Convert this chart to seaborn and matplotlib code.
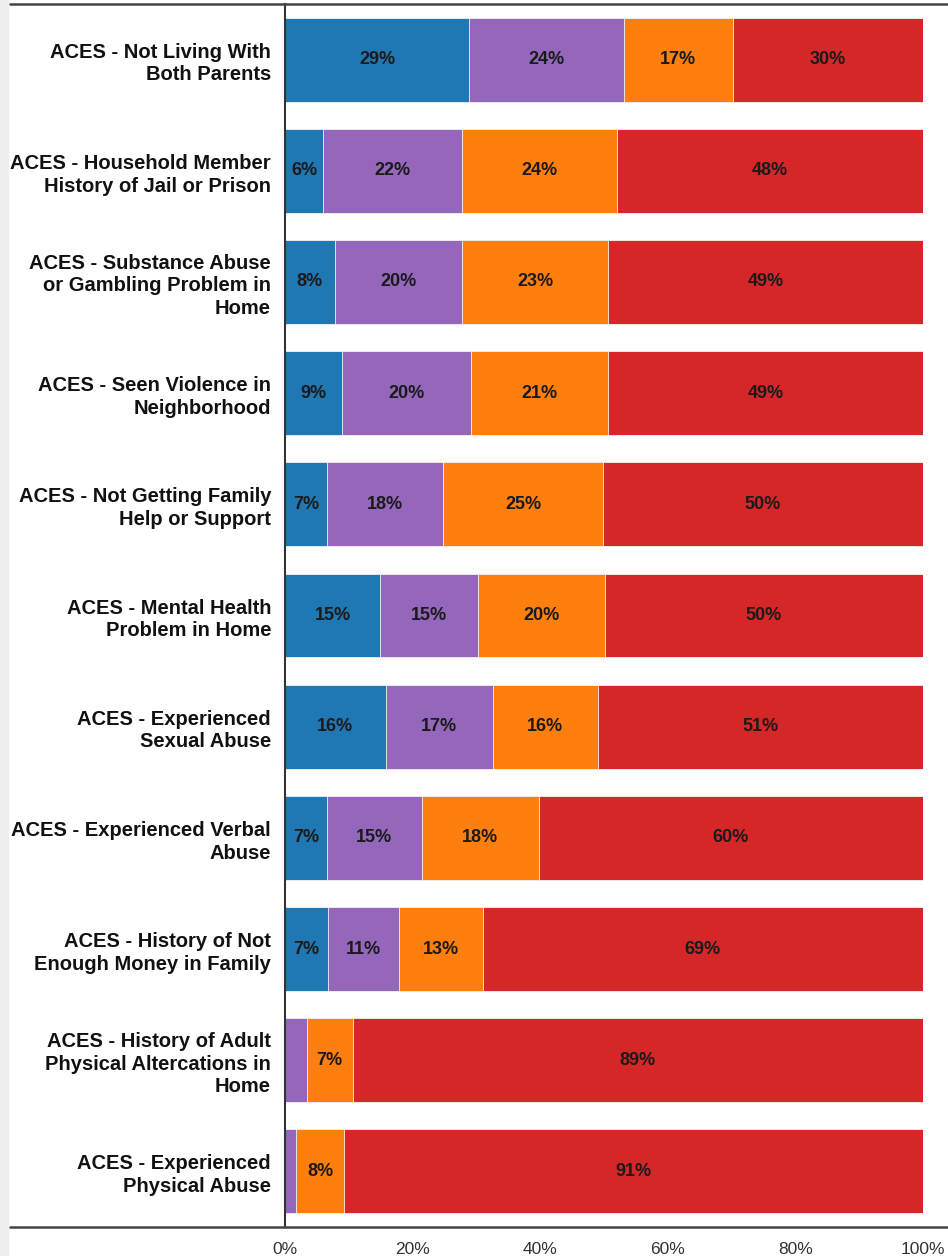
import numpy as np
import pandas as pd
import matplotlib.pyplot as plt
import seaborn as sns
from matplotlib.lines import Line2D
from matplotlib.patches import Rectangle

# data (percent of respondents)
categories = [
    "ACES - Not Living With\nBoth Parents",
    "ACES - Household Member\nHistory of Jail or Prison",
    "ACES - Substance Abuse\nor Gambling Problem in\nHome",
    "ACES - Seen Violence in\nNeighborhood",
    "ACES - Not Getting Family\nHelp or Support",
    "ACES - Mental Health\nProblem in Home",
    "ACES - Experienced\nSexual Abuse",
    "ACES - Experienced Verbal\nAbuse",
    "ACES - History of Not\nEnough Money in Family",
    "ACES - History of Adult\nPhysical Altercations in\nHome",
    "ACES - Experienced\nPhysical Abuse",
]
blue = [28.9, 6.0, 7.8, 8.9, 6.6, 14.9, 15.8, 6.6, 6.8, 0.0, 0.0]
purple = [24.2, 21.8, 20.0, 20.3, 18.2, 15.4, 16.8, 14.8, 11.0, 3.4, 1.7]
orange = [17.1, 24.3, 22.8, 21.4, 25.0, 19.8, 16.4, 18.4, 13.2, 7.2, 7.6]
red = [29.8, 47.9, 49.4, 49.4, 50.2, 49.9, 51.0, 60.2, 69.0, 89.4, 90.7]

series = [blue, purple, orange, red]
colors = ["#1f77b4", "#9467bd", "#ff7f0e", "#d62728"]

df = pd.DataFrame({"cat": categories})
cum = np.cumsum(np.array(series), axis=0)

sns.set_style("white")
plt.rcParams['font.family'] = ['Liberation Sans', 'DejaVu Sans']

fig = plt.figure(figsize=(9.48, 12.56), dpi=100)
ax = fig.add_axes([285/948, 1-1227/1256, 638/948, 1223/1256])

# stacked bars: draw the cumulative totals from back to front
for i in range(3, -1, -1):
    df["v"] = cum[i]
    sns.barplot(data=df, x="v", y="cat", orient="h", color=colors[i],
                saturation=1, width=0.755, edgecolor="#f4f4f4", linewidth=0.6, ax=ax)

# segment labels
for i in range(4):
    for j, v in enumerate(series[i]):
        if v >= 5:
            mid = cum[i][j] - v / 2
            ax.text(mid, j, f"{v:.0f}%", ha="center", va="center",
                    fontsize=13, fontweight="bold", color="#1a1a1a")

ax.set_xlim(0, 100)
ax.set_ylim(10.5, -0.5)
ax.set_xticks(np.arange(0, 101, 20))
ax.set_xticklabels([f"{t}%" for t in range(0, 101, 20)])
ax.set_xlabel("")
ax.set_ylabel("")
ax.tick_params(axis="x", length=7, color="#cccccc", labelsize=12.5, labelcolor="#333333", pad=4)
ax.tick_params(axis="y", length=0, pad=10)
for lab in ax.get_yticklabels():
    lab.set_fontweight("bold")
    lab.set_fontsize(14.5)
    lab.set_color("#111111")
    lab.set_linespacing(1.25)

for s in ["top", "right", "bottom"]:
    ax.spines[s].set_visible(False)
ax.spines["left"].set_color("#333333")
ax.spines["left"].set_linewidth(1.5)

# frame lines across the figure and grey strip on the left
fig.add_artist(Line2D([10/948, 1], [1-4/1256, 1-4/1256], color="#444444", lw=1.8))
fig.add_artist(Line2D([10/948, 1], [1-1227/1256, 1-1227/1256], color="#444444", lw=1.8))
fig.add_artist(Rectangle((0, 0), 8/948, 1, color="#eeeeee", transform=fig.transFigure))

plt.savefig("out.png", dpi=100)
